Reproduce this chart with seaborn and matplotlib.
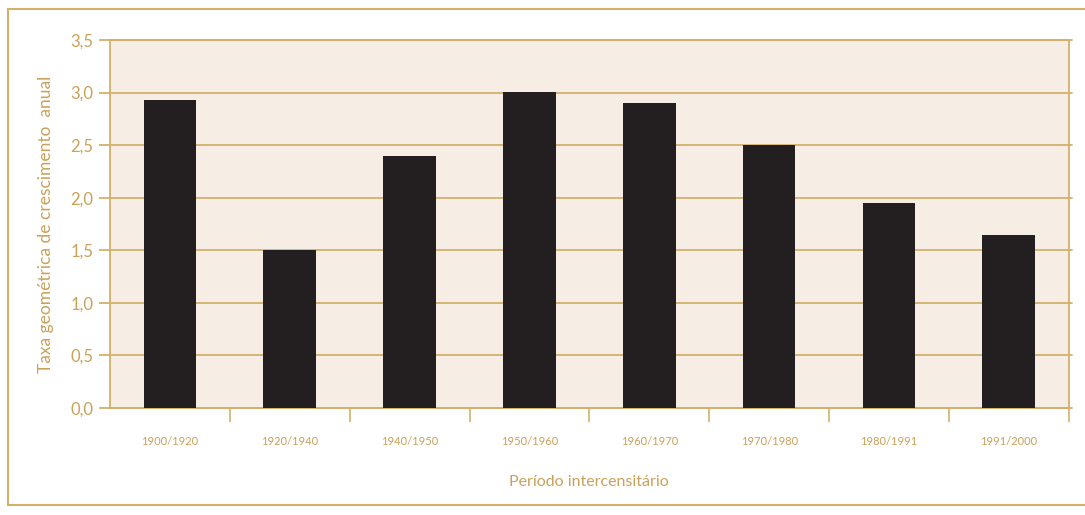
import matplotlib
matplotlib.use("Agg")
import matplotlib.pyplot as plt
import seaborn as sns
import pandas as pd
from matplotlib.lines import Line2D

periodos = ["1900/1920", "1920/1940", "1940/1950", "1950/1960",
            "1960/1970", "1970/1980", "1980/1991", "1991/2000"]
taxas = [2.93, 1.50, 2.40, 3.01, 2.90, 2.50, 1.95, 1.65]
yticks = [0.0, 0.5, 1.0, 1.5, 2.0, 2.5, 3.0, 3.5]

tan = "#d4b06a"
txt = "#c9a15a"
bg = "#f6ede4"

sns.set_style("white")
plt.rcParams["font.family"] = ["Lato", "DejaVu Sans"]

df = pd.DataFrame({"periodo": periodos, "taxa": taxas})

fig = plt.figure(figsize=(10.85, 5.15), dpi=100)
ax = fig.add_axes([0.1014, 0.2078, 0.8836, 0.7145])
ax.set_facecolor(bg)

sns.barplot(data=df, x="periodo", y="taxa", color="#231f20", width=0.44,
            saturation=1, ax=ax, zorder=3, edgecolor="none", linewidth=0)

ax.set_ylim(0, 3.5)
ax.set_xlim(-0.5, 7.5)
ax.set_yticks(yticks)
ax.set_yticklabels([f"{v:.1f}".replace(".", ",") for v in yticks],
                   fontsize=12, color=txt)
for v in yticks:
    ax.axhline(v, color=tan, lw=1.3, zorder=1, clip_on=False,
               xmin=0, xmax=1.003)

ax.tick_params(axis="y", left=True, length=8, width=1.3, color=tan, pad=4)
ax.tick_params(axis="x", which="major", bottom=False, length=0, pad=20,
               labelsize=8, labelcolor=txt)
ax.set_xticks([i + 0.5 for i in range(8)], minor=True)
ax.tick_params(axis="x", which="minor", bottom=True, length=10, width=1.2,
               color=tan)

for s in ["left", "bottom", "right", "top"]:
    ax.spines[s].set_color(tan)
    ax.spines[s].set_linewidth(1.3)

ax.set_xlabel("Período intercensitário", fontsize=11.5, color=txt, labelpad=20)
ax.set_ylabel("Taxa geométrica de crescimento  anual", fontsize=12.5,
              color=txt, labelpad=12)

# moldura externa
fig.add_artist(Line2D([8 / 1085, 1.0], [1 - 9 / 515, 1 - 9 / 515],
                      color=tan, lw=1.5))
fig.add_artist(Line2D([8 / 1085, 1.0], [1 - 505 / 515, 1 - 505 / 515],
                      color=tan, lw=1.5))
fig.add_artist(Line2D([8 / 1085, 8 / 1085], [1 - 9 / 515, 1 - 505 / 515],
                      color=tan, lw=1.5))

fig.savefig("out.png", dpi=100)
